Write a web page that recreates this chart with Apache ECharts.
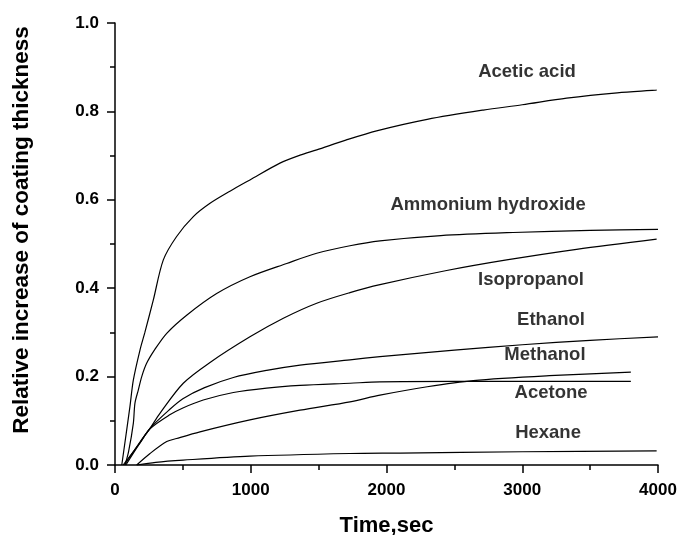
<!DOCTYPE html>
<html>
<head>
<meta charset="utf-8">
<script src="https://cdn.jsdelivr.net/npm/echarts@6/dist/echarts.min.js"></script>
<style>
    html, body { margin: 0; padding: 0; background: #fff; }
    #chart { width: 681px; height: 535px; }
</style>
</head>
<body>
<div id="chart"></div>
<script>
var aceticAcid = [[50,0],[110,0.132],[135,0.192],[184,0.26],[220,0.3],[282,0.373],[356,0.464],[454,0.517],
    [577,0.562],[700,0.592],[850,0.62],[994,0.645],[1215,0.683],[1363,0.701],[1486,0.713],[1700,0.735],
    [1927,0.756],[2300,0.782],[2713,0.803],[3000,0.815],[3327,0.83],[3700,0.842],[3990,0.848]];
var ammoniumHydroxide = [[74,0],[100,0.03],[135,0.094],[147,0.14],[172,0.17],[197,0.2],[233,0.23],[295,0.262],
    [381,0.298],[528,0.339],[749,0.388],[994,0.426],[1265,0.456],[1486,0.479],[1731,0.496],[1952,0.507],
    [2400,0.519],[2932,0.526],[3500,0.531],[4000,0.533]];
var isopropanol = [[70,0],[184,0.052],[258,0.083],[331,0.117],[503,0.185],[700,0.232],[994,0.29],[1240,0.332],
    [1486,0.366],[1731,0.39],[1952,0.408],[2443,0.44],[2885,0.464],[3400,0.488],[3990,0.511]];
var ethanol = [[60,0],[184,0.05],[258,0.083],[400,0.125],[500,0.15],[660,0.175],[872,0.198],[1117,0.214],
    [1363,0.226],[1731,0.238],[1952,0.245],[2500,0.26],[3000,0.272],[3500,0.282],[4000,0.29]];
var methanol = [[160,0],[258,0.026],[381,0.053],[454,0.06],[626,0.075],[994,0.102],[1363,0.124],[1731,0.143],
    [1952,0.158],[2300,0.177],[2639,0.191],[3200,0.202],[3800,0.21]];
var acetone = [[80,0],[184,0.05],[258,0.082],[400,0.113],[500,0.129],[650,0.147],[872,0.164],[1117,0.174],
    [1363,0.18],[1731,0.185],[1952,0.188],[2500,0.189],[3000,0.189],[3800,0.189]];
var hexane = [[160,0],[300,0.006],[503,0.011],[994,0.02],[1731,0.026],[2100,0.027],[3000,0.03],[3990,0.032]];

var seriesNames = ['Acetic acid', 'Ammonium hydroxide', 'Isopropanol', 'Ethanol', 'Methanol', 'Acetone', 'Hexane'];
var seriesData  = [aceticAcid, ammoniumHydroxide, isopropanol, ethanol, methanol, acetone, hexane];
// where each curve's name is written, in data units
var labelAnchors = [[3035,0.889],[2748,0.588],[3064,0.419],[3212,0.328],[3167,0.249],[3212,0.163],[3190,0.072]];

var xTicks = { min: 0, max: 4000, step: 1000 };
var yTicks = { min: 0, max: 1, step: 0.2 };

var FONT = 'Liberation Sans, Arial, sans-serif';

var series = seriesData.map(function (d, i) {
    return {
        name: seriesNames[i],
        type: 'line',
        data: d,
        showSymbol: false,
        smooth: 0.3,
        lineStyle: { color: '#000', width: 1.2 },
        silent: true
    };
});

// curve names written next to the curves
series.push({
    type: 'scatter',
    symbolSize: 0,
    silent: true,
    data: labelAnchors.map(function (p, i) { return { value: p, name: seriesNames[i] }; }),
    label: {
        show: true,
        position: 'inside',
        formatter: '{b}',
        color: '#000',
        fontFamily: FONT,
        fontWeight: 'bold',
        fontSize: 18.5
    }
});

var axisCommon = {
    axisLine: { show: true, lineStyle: { color: '#000', width: 1.5 } },
    axisTick: { show: true, inside: false, length: 8, lineStyle: { color: '#000', width: 1.5 } },
    minorTick: { show: true, splitNumber: 2, length: 5, lineStyle: { color: '#000', width: 1.5 } },
    splitLine: { show: false },
    nameLocation: 'middle',
    nameTextStyle: { color: '#000', fontFamily: FONT, fontWeight: 'bold', fontSize: 22 }
};

var chart = echarts.init(document.getElementById('chart'));
chart.setOption({
    animation: false,
    backgroundColor: '#fff',
    grid: { left: 115, right: 23, top: 23, bottom: 70, containLabel: false, outerBoundsMode: 'none' },
    xAxis: Object.assign({}, axisCommon, {
        type: 'value',
        min: xTicks.min, max: xTicks.max, interval: xTicks.step,
        name: 'Time,sec',
        nameGap: 50,
        axisLabel: {
            color: '#000', fontFamily: FONT, fontWeight: 'bold', fontSize: 17, margin: 17,
            formatter: function (v) { return String(v); }
        }
    }),
    yAxis: Object.assign({}, axisCommon, {
        type: 'value',
        min: yTicks.min, max: yTicks.max, interval: yTicks.step,
        name: 'Relative increase of coating thickness',
        nameGap: 82,
        nameTextStyle: Object.assign({}, axisCommon.nameTextStyle, { fontSize: 22.5, padding: [0, 0, 0, 28] }),
        axisLabel: {
            color: '#000', fontFamily: FONT, fontWeight: 'bold', fontSize: 17, margin: 16,
            formatter: function (v) { return v.toFixed(1); }
        }
    }),
    series: series
});
</script>
</body>
</html>
